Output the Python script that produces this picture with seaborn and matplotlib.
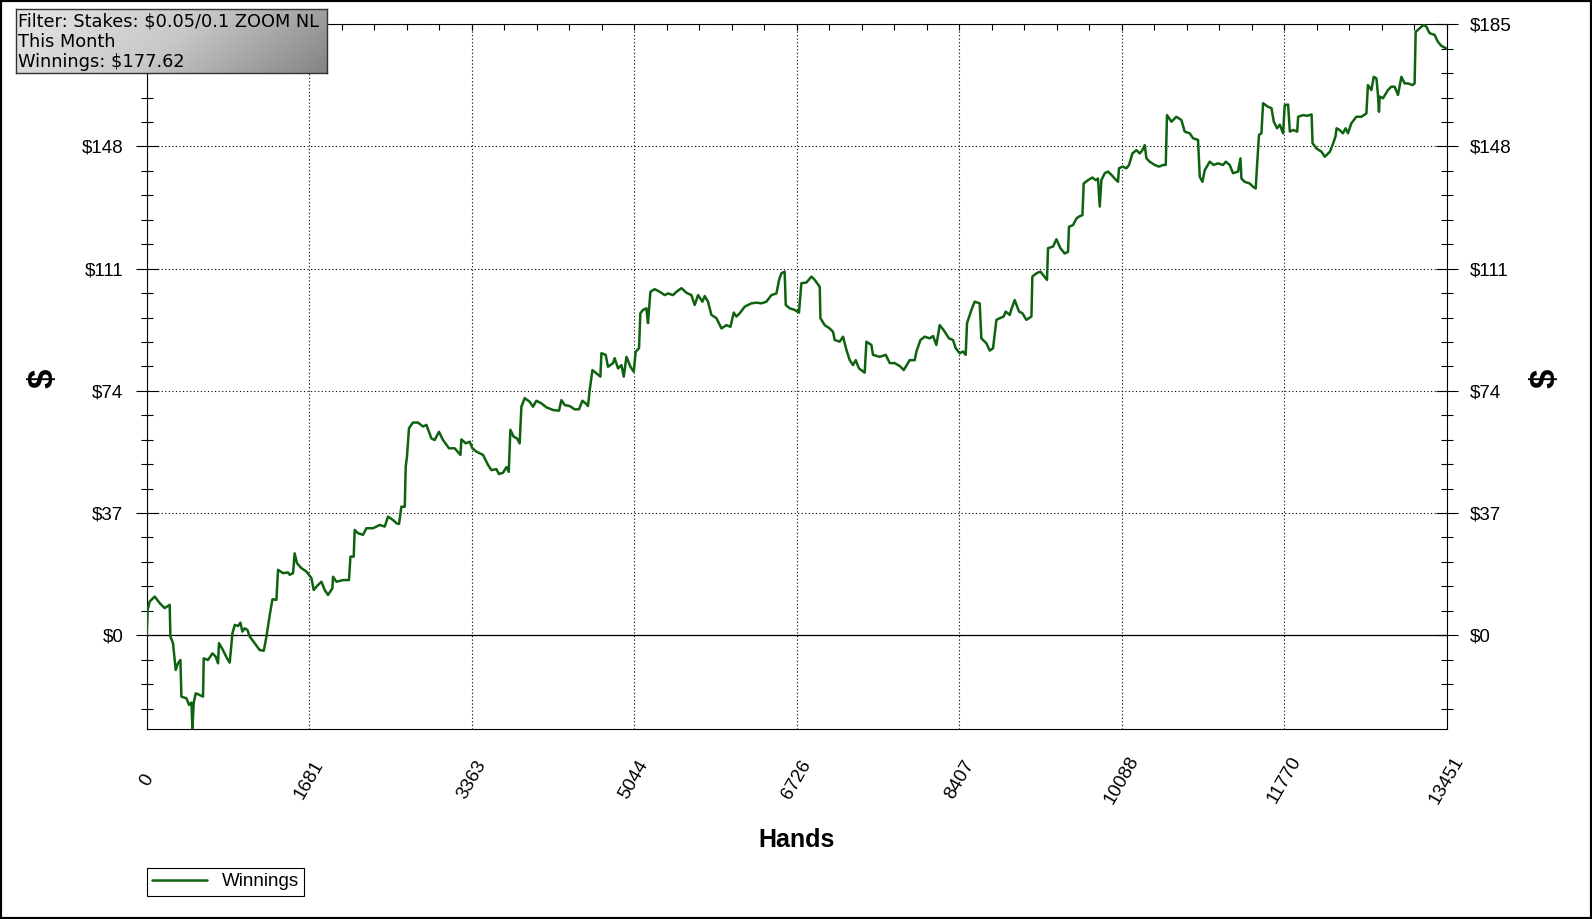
import numpy as np
import pandas as pd
import matplotlib
matplotlib.use('Agg')
import matplotlib.pyplot as plt
from matplotlib.ticker import MultipleLocator, FixedLocator
from matplotlib.colors import LinearSegmentedColormap
import seaborn as sns

hands = [0, 10, 31, 83, 135, 186, 238, 245, 272, 290, 300, 324, 349, 359, 411, 438, 463, 473, 486, 507,
         548, 583, 590, 634, 680, 714, 738, 748, 789, 831, 859, 887, 911, 945, 970, 990, 1014, 1042, 1066,
         1117, 1169, 1211, 1239, 1273, 1301, 1342, 1359, 1410, 1462, 1480, 1514, 1531, 1555, 1601, 1652,
         1704, 1728, 1772, 1808, 1842, 1876, 1921, 1928, 1963, 2031, 2093, 2108, 2142, 2152, 2186, 2238,
         2273, 2342, 2411, 2463, 2497, 2548, 2584, 2611, 2635, 2670, 2680, 2693, 2714, 2755, 2807, 2859,
         2894, 2946, 2980, 3024, 3066, 3128, 3187, 3246, 3256, 3301, 3342, 3370, 3411, 3480, 3531, 3567,
         3618, 3645, 3687, 3722, 3746, 3763, 3797, 3832, 3859, 3877, 3911, 3963, 3997, 4032, 4084, 4136,
         4204, 4266, 4291, 4325, 4377, 4428, 4473, 4508, 4550, 4566, 4584, 4612, 4653, 4694, 4705, 4749,
         4773, 4825, 4842, 4877, 4912, 4936, 4964, 5005, 5039, 5060, 5094, 5108, 5135, 5170, 5187, 5197,
         5212, 5256, 5308, 5360, 5394, 5446, 5481, 5533, 5584, 5636, 5670, 5705, 5750, 5774, 5808, 5843,
         5895, 5947, 5998, 6040, 6074, 6102, 6136, 6188, 6257, 6309, 6360, 6412, 6464, 6516, 6543, 6567,
         6601, 6612, 6653, 6705, 6749, 6774, 6826, 6878, 6912, 6964, 6971, 7015, 7067, 7101, 7119, 7170,
         7205, 7240, 7274, 7308, 7336, 7370, 7429, 7447, 7498, 7515, 7584, 7647, 7688, 7740, 7792, 7833,
         7895, 7947, 7964, 8006, 8050, 8102, 8136, 8171, 8205, 8246, 8301, 8343, 8371, 8412, 8446, 8474,
         8488, 8533, 8567, 8619, 8636, 8688, 8723, 8757, 8792, 8826, 8867, 8888, 8930, 8947, 8981, 9026,
         9061, 9102, 9154, 9164, 9206, 9247, 9274, 9315, 9326, 9378, 9413, 9454, 9498, 9533, 9543, 9585,
         9620, 9654, 9682, 9695, 9740, 9785, 9819, 9843, 9861, 9878, 9913, 9947, 9982, 10016, 10050, 10060,
         10096, 10137, 10164, 10199, 10240, 10275, 10303, 10326, 10344, 10378, 10430, 10474, 10516, 10544,
         10557, 10603, 10654, 10706, 10740, 10792, 10826, 10878, 10896, 10924, 10947, 10999, 11040, 11085,
         11137, 11165, 11206, 11240, 11292, 11317, 11327, 11361, 11413, 11447, 11475, 11489, 11509, 11534,
         11551, 11603, 11638, 11662, 11696, 11724, 11758, 11775, 11810, 11828, 11862, 11904, 11914, 11966,
         12007, 12053, 12063, 12104, 12156, 12190, 12242, 12277, 12300, 12312, 12343, 12377, 12405, 12429,
         12464, 12516, 12568, 12620, 12636, 12672, 12696, 12724, 12740, 12750, 12758, 12792, 12843, 12878,
         12912, 12947, 12982, 13016, 13050, 13096, 13119, 13130, 13171, 13212, 13240, 13274, 13326, 13360,
         13395, 13451]

winnings = [0, 7.7, 10.2, 11.7, 9.7, 8.2, 9.2, -0.4, -2.4, -7.5, -10.5, -8.5, -7.5, -18.6, -19.1, -21.1,
            -20.4, -28.2, -20.6, -17.6, -18.1, -18.6, -7.0, -7.5, -5.5, -6.5, -8.5, -2.4, -4.5, -7.0, -8.3,
            0.6, 3.1, 2.8, 3.8, 1.1, 2.1, 1.6, -0.4, -2.4, -4.5, -4.7, -0.4, 6.1, 10.9, 10.7, 19.8, 18.8,
            19.0, 18.3, 18.8, 24.8, 21.8, 20.3, 19.3, 17.3, 13.7, 15.2, 16.2, 13.7, 12.2, 14.2, 17.7, 16.2,
            16.7, 16.7, 23.8, 23.8, 31.9, 30.9, 30.4, 32.4, 32.4, 33.4, 32.9, 35.9, 34.9, 33.9, 33.7, 38.9,
            38.9, 51.0, 54.1, 62.7, 64.4, 64.4, 63.2, 63.7, 59.6, 59.1, 61.6, 59.1, 56.6, 56.6, 54.6, 59.3,
            58.1, 58.6, 56.6, 55.6, 54.6, 51.6, 50.0, 50.3, 48.8, 49.2, 50.9, 49.5, 62.2, 60.1, 59.6, 58.1,
            69.2, 71.8, 70.7, 69.2, 71.0, 70.2, 69.0, 68.2, 68.0, 71.2, 69.7, 69.4, 68.4, 68.4, 71.0, 70.0,
            69.4, 74.3, 80.3, 79.3, 78.3, 85.4, 84.9, 81.3, 82.4, 83.9, 80.8, 81.8, 78.3, 84.3, 81.3, 79.8,
            85.9, 86.9, 97.5, 98.5, 99.0, 94.5, 98.5, 104.0, 104.8, 104.0, 103.0, 103.5, 103.0, 104.0, 105.1,
            103.7, 103.0, 100.0, 103.0, 101.0, 102.7, 101.0, 97.0, 96.0, 92.9, 93.9, 93.4, 97.7, 96.5, 97.5,
            99.5, 100.5, 100.7, 100.5, 101.0, 103.0, 103.5, 107.6, 109.6, 110.1, 100.0, 99.0, 98.5, 97.7,
            106.6, 106.8, 108.6, 107.6, 105.5, 96.0, 93.9, 92.9, 91.9, 89.4, 88.9, 90.4, 86.4, 83.3, 81.8,
            83.3, 80.8, 79.5, 88.9, 87.9, 84.9, 84.3, 84.9, 82.4, 82.4, 81.5, 80.3, 83.3, 83.3, 85.9, 89.4,
            90.4, 89.9, 90.6, 87.9, 93.9, 92.4, 89.9, 89.4, 86.9, 85.4, 85.9, 84.9, 94.5, 98.5, 101.0, 100.5,
            89.9, 88.4, 86.2, 86.9, 95.5, 96.0, 96.5, 98.0, 97.0, 98.7, 101.5, 98.0, 97.5, 95.5, 96.5, 108.6,
            109.6, 110.1, 109.1, 107.6, 117.2, 117.7, 119.9, 117.2, 115.6, 116.1, 123.7, 124.2, 126.2, 126.9,
            127.2, 136.8, 137.8, 138.6, 137.8, 138.3, 129.8, 137.8, 139.9, 140.4, 139.4, 138.3, 137.3, 141.4,
            141.9, 141.4, 142.4, 145.9, 146.9, 145.9, 146.9, 148.4, 144.4, 143.4, 142.4, 141.9, 142.4, 142.4,
            157.5, 155.5, 157.0, 156.0, 152.5, 152.0, 150.5, 150.0, 138.8, 137.3, 140.8, 143.4, 142.4, 142.9,
            142.4, 143.4, 142.4, 139.9, 140.4, 144.4, 138.3, 137.3, 136.8, 135.8, 135.3, 142.4, 151.5, 152.0,
            161.1, 160.0, 159.6, 155.5, 153.5, 154.6, 152.0, 160.5, 160.7, 152.5, 153.0, 152.5, 157.0, 157.5,
            157.3, 157.7, 149.0, 147.4, 146.4, 144.9, 146.4, 149.0, 151.0, 153.5, 153.0, 152.0, 153.5, 152.0,
            155.0, 157.0, 157.0, 158.0, 166.6, 165.1, 169.1, 168.6, 163.6, 158.5, 163.1, 162.6, 165.1, 166.1,
            166.1, 163.6, 169.1, 167.1, 167.1, 166.6, 167.1, 182.7, 183.8, 184.8, 184.3, 182.3, 181.8, 179.7,
            178.5, 177.62]

x_ticks = [0, 1681, 3363, 5044, 6726, 8407, 10088, 11770, 13451]
x_tick_labels = ['0', '1681', '3363', '5044', '6726', '8407', '10088', '11770', '13451']
y_ticks = [0, 37, 74, 111, 148, 185]
y_tick_labels = ['$0', '$37', '$74', '$111', '$148', '$185']
filter_lines = ['Filter: Stakes: $0.05/0.1 ZOOM NL', 'This Month', 'Winnings: $177.62']
series_name = 'Winnings'
x_title = 'Hands'
y_title = '$'

sns.set_style('white')
plt.rcParams['font.family'] = ['Liberation Sans', 'DejaVu Sans']
plt.rcParams['text.color'] = 'black'
plt.rcParams['axes.labelcolor'] = 'black'

W, H = 1592, 919
fig = plt.figure(figsize=(W / 100, H / 100), dpi=100)
ax = fig.add_axes([146.7 / W, (H - 729) / H, 1300 / W, (729 - 24.3) / H])

df = pd.DataFrame({'Hands': hands, 'Winnings': winnings})
sns.lineplot(data=df, x='Hands', y='Winnings', ax=ax, color='#0f620f', lw=1.8,
             label=series_name, sort=False, estimator=None, zorder=4)

ax.set_xlim(0, 13451)
ax.set_ylim(-28.4, 185)
ax.axhline(0, color='black', lw=0.9, zorder=2)

ax.set_xticks(x_ticks)
ax.set_xticklabels(x_tick_labels, rotation=60, ha='center', va='center')
ax.xaxis.set_minor_locator(FixedLocator(np.linspace(0, 13451, 41)))
ax.set_yticks(y_ticks)
ax.set_yticklabels(y_tick_labels)
ax.yaxis.set_minor_locator(MultipleLocator(7.4))

ax.tick_params(axis='both', which='major', direction='inout', length=16.5, width=0.8,
               color='black', labelsize=13.5, labelcolor='black')
ax.tick_params(axis='both', which='minor', direction='inout', length=8.5, width=0.8, color='black')
ax.tick_params(axis='x', which='major', pad=28.5)
ax.tick_params(axis='y', which='both', left=True, right=True)
ax.tick_params(axis='y', which='major', labelleft=True, labelright=True, pad=8.5)
ax.tick_params(axis='x', which='both', top=False)
# left "$185" label sits under the filter box in the reference
ax.yaxis.get_major_ticks()[-1].label1.set_visible(False)

top = ax.secondary_xaxis('top')
top.set_xticks(x_ticks)
top.xaxis.set_minor_locator(FixedLocator(np.linspace(0, 13451, 41)))
top.tick_params(axis='x', which='both', direction='in', length=4.5, width=0.8, labeltop=False, color='black')
top.spines['top'].set_visible(False)

ax.grid(True, which='major', axis='both', color='black', lw=0.8, linestyle=(0, (1, 2.2)))
ax.grid(False, which='minor')
for s in ax.spines.values():
    s.set_color('black')
    s.set_linewidth(0.8)

ax.set_xlabel(x_title, fontsize=18, weight='bold', color='black')
ax.xaxis.set_label_coords(0.5, -0.157)
ax.xaxis.label.set_va('center')
ax.set_ylabel('')
fig.text(42.6 / W, 1 - 378 / H, y_title, rotation=90, fontsize=25, weight='bold', ha='center', va='center', color='black')
fig.text(1545 / W, 1 - 378 / H, y_title, rotation=90, fontsize=25, weight='bold', ha='center', va='center', color='black')

leg = ax.legend(loc='upper left', bbox_to_anchor=(147 / W, 1 - 868 / H), bbox_transform=fig.transFigure,
                frameon=True, fancybox=False, edgecolor='black', framealpha=1, fontsize=13.5,
                handlelength=2.9, borderpad=0.28, borderaxespad=0, handletextpad=0.8, labelcolor='black')
leg.get_frame().set_linewidth(0.8)

# filter info box
bax = fig.add_axes([16 / W, 1 - 73 / H, 311 / W, 64 / H], zorder=10)
gx, gy = np.meshgrid(np.linspace(0, 1, 300), np.linspace(0, 1, 60))
grad = 0.8 * gx + 0.2 * gy
cm = LinearSegmentedColormap.from_list('g', ['#e6e6e6', '#c8c8c8', '#848484'])
bax.imshow(grad, aspect='auto', cmap=cm, extent=[0, 1, 0, 1], origin='upper', vmin=0, vmax=1)
bax.set_xlim(0, 1)
bax.set_ylim(0, 1)
bax.set_xticks([])
bax.set_yticks([])
for s in bax.spines.values():
    s.set_color('#333333')
    s.set_linewidth(1)
for line, yb in zip(filter_lines, [0.719, 0.406, 0.094]):
    bax.text(2.5 / 311, yb, line, transform=bax.transAxes, fontsize=12.8, family='DejaVu Sans',
             va='baseline', ha='left', color='black')

fig.add_artist(plt.Rectangle((0, 0), 1, 1, transform=fig.transFigure, fill=False,
                             edgecolor='black', lw=3))

fig.savefig('out.png', dpi=100)
